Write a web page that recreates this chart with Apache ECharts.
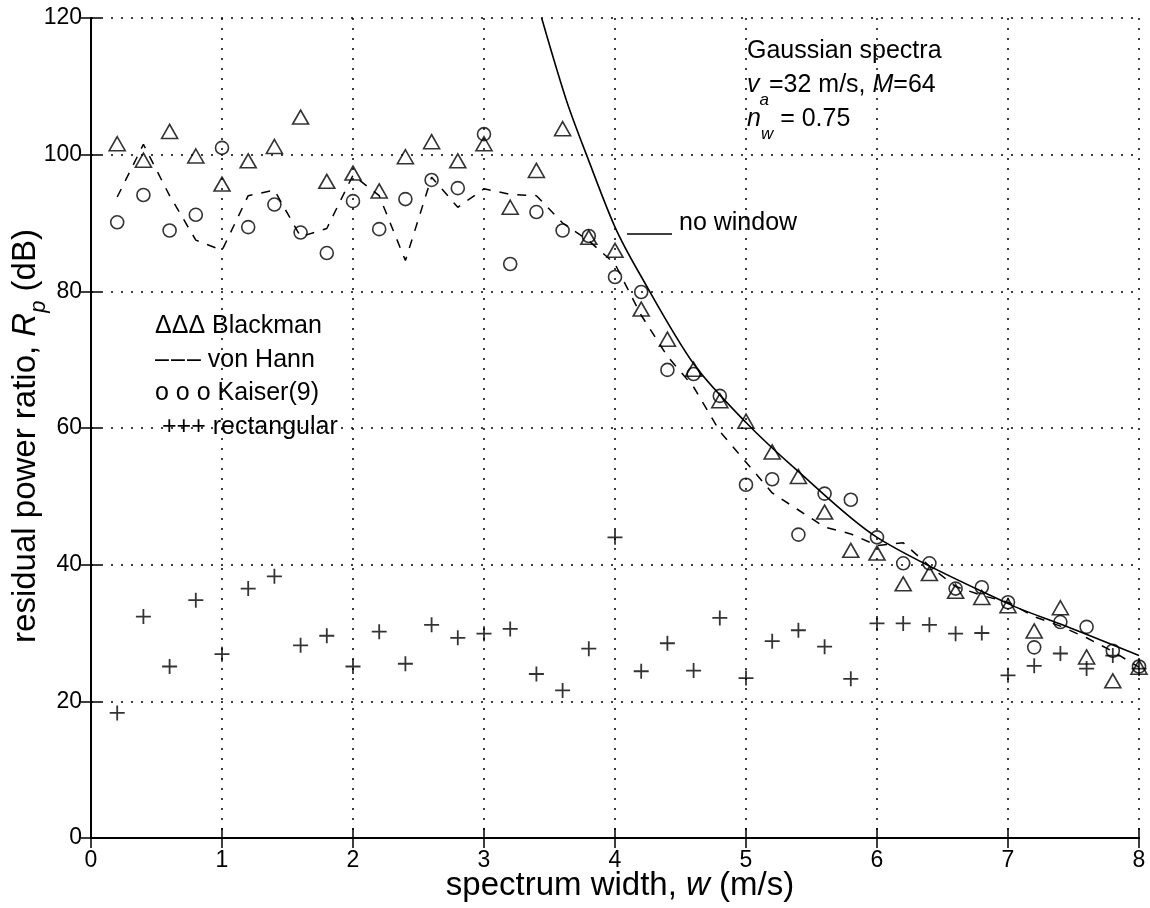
<!DOCTYPE html>
<html>
<head>
<meta charset="utf-8">
<script src="https://cdn.jsdelivr.net/npm/echarts@6/dist/echarts.min.js"></script>
<style>
  html, body { margin: 0; padding: 0; background: #fff; }
  #chart { width: 1150px; height: 908px; }
</style>
</head>
<body>
<div id="chart"></div>
<script>
// Spectrum widths w (m/s) at which each window was evaluated
const widths = [0.2, 0.4, 0.6, 0.8, 1.0, 1.2, 1.4, 1.6, 1.8, 2.0,
                2.2, 2.4, 2.6, 2.8, 3.0, 3.2, 3.4, 3.6, 3.8, 4.0,
                4.2, 4.4, 4.6, 4.8, 5.0, 5.2, 5.4, 5.6, 5.8, 6.0,
                6.2, 6.4, 6.6, 6.8, 7.0, 7.2, 7.4, 7.6, 7.8, 8.0];

// Residual power ratio R_p (dB) per window
const blackman = [101.6, 99.2, 103.4, 99.8, 95.7, 99.1, 101.2, 105.5, 96.1, 97.3,
                  94.7, 99.7, 101.9, 99.1, 101.6, 92.3, 97.7, 103.8, 87.9, 86.0,
                  77.4, 73.0, 68.6, 64.0, 61.0, 56.5, 52.9, 47.7, 42.1, 41.7,
                  37.2, 38.7, 36.1, 35.2, 34.0, 30.3, 33.7, 26.5, 23.0, 25.0];

const vonHann = [93.8, 101.5, 94.0, 87.5, 86.0, 94.0, 94.8, 88.0, 89.2, 97.0,
                 94.0, 84.5, 96.7, 92.3, 95.0, 94.2, 94.0, 90.0, 87.4, 84.0,
                 76.5, 70.5, 66.0, 59.5, 55.0, 50.5, 48.0, 45.5, 44.5, 42.8,
                 43.2, 39.8, 36.8, 35.5, 34.5, 32.4, 31.0, 29.3, 27.3, 25.0];

const kaiser9 = [90.1, 94.1, 88.9, 91.2, 101.0, 89.4, 92.7, 88.6, 85.6, 93.2,
                 89.1, 93.5, 96.3, 95.1, 103.0, 84.0, 91.6, 88.9, 88.1, 82.1,
                 79.9, 68.5, 67.9, 64.7, 51.7, 52.5, 44.4, 50.4, 49.5, 44.0,
                 40.2, 40.2, 36.5, 36.7, 34.5, 27.9, 31.6, 30.9, 27.4, 25.1];

const rectangular = [18.3, 32.4, 25.1, 34.8, 26.9, 36.5, 38.3, 28.2, 29.6, 25.1,
                     30.2, 25.5, 31.2, 29.3, 29.9, 30.6, 24.0, 21.6, 27.7, 44.0,
                     24.4, 28.5, 24.5, 32.2, 23.4, 28.8, 30.4, 28.0, 23.3, 31.4,
                     31.4, 31.2, 29.9, 30.0, 23.8, 25.2, 27.0, 24.8, 26.7, 24.8];

// Unwindowed case: points along the curve (w, R_p)
const noWindowW  = [3.44, 3.63, 3.79, 4.0, 4.19, 4.6, 5.0, 5.39, 6.0, 7.0, 7.4, 7.65, 8.0];
const noWindowRp = [120, 107.9, 99.6, 89.4, 82.5, 69.4, 60.8, 53.8, 44.0, 34.3, 31.3, 29.4, 26.7];

// Axis ticks
const xTicks = { min: 0, max: 8, step: 1 };
const yTicks = { min: 0, max: 120, step: 20 };

const FONT = '"Liberation Sans", Arial, Helvetica, sans-serif';
const BLACK = '#000';

const pairs = (xs, ys) => xs.map((x, i) => [x, ys[i]]);

function tok(size, italic, extra) {
  return Object.assign({ fontSize: size, fontFamily: FONT, fontStyle: italic ? 'italic' : 'normal', fill: BLACK }, extra || {});
}
const richSet = (size, subSize, subShift) => ({
  n: tok(size, false),
  i: tok(size, true),
  s: tok(subSize, true, { padding: [subShift, 0, 0, 0] })
});

function label(x, y, text, opts) {
  opts = opts || {};
  return {
    type: 'text', x: x, y: y, rotation: opts.rotation || 0, silent: true,
    style: {
      text: text,
      rich: richSet(opts.size || 25, opts.subSize || 17, opts.subShift || 30),
      fontSize: opts.size || 25, fontFamily: FONT, fill: BLACK,
      align: opts.align || 'left', verticalAlign: 'middle'
    }
  };
}

const tickAxisCommon = {
  type: 'value',
  axisLine: { show: true, lineStyle: { color: BLACK, width: 2 } },
  axisTick: { show: true, inside: true, length: 10, lineStyle: { color: BLACK, width: 1.5 } }
};

const chart = echarts.init(document.getElementById('chart'), null, { renderer: 'canvas' });

chart.setOption({
  animation: false,
  backgroundColor: '#fff',
  grid: { left: 91, top: 18, right: 11, bottom: 70, containLabel: false },
  xAxis: [
    Object.assign({}, tickAxisCommon, {
      position: 'bottom', min: xTicks.min, max: xTicks.max, interval: xTicks.step,
      axisLabel: { color: BLACK, fontSize: 23, fontFamily: FONT, margin: 11 },
      splitLine: { show: true, lineStyle: { color: BLACK, width: 1.5, type: [2, 8] } }
    }),
    Object.assign({}, tickAxisCommon, {
      position: 'top', min: xTicks.min, max: xTicks.max, interval: xTicks.step,
      axisLabel: { show: false }, splitLine: { show: false }
    })
  ],
  yAxis: [
    Object.assign({}, tickAxisCommon, {
      position: 'left', min: yTicks.min, max: yTicks.max, interval: yTicks.step,
      axisLabel: { color: BLACK, fontSize: 23, fontFamily: FONT, margin: 9 },
      splitLine: { show: true, lineStyle: { color: BLACK, width: 1.5, type: [2, 8] } }
    }),
    Object.assign({}, tickAxisCommon, {
      position: 'right', min: yTicks.min, max: yTicks.max, interval: yTicks.step,
      axisLabel: { show: false }, splitLine: { show: false }
    })
  ],
  series: [
    {
      name: 'no window', type: 'line', data: pairs(noWindowW, noWindowRp),
      smooth: 0.3, showSymbol: false, symbol: 'none', clip: true,
      lineStyle: { color: BLACK, width: 1.6 }, z: 3
    },
    {
      name: 'von Hann', type: 'line', data: pairs(widths, vonHann),
      showSymbol: false, symbol: 'none', clip: true,
      lineStyle: { color: BLACK, width: 1.5, type: [9, 9] }, z: 3
    },
    {
      name: 'Blackman', type: 'scatter', data: pairs(widths, blackman),
      symbol: 'triangle', symbolSize: [16, 14],
      itemStyle: { color: 'rgba(0,0,0,0)', borderColor: BLACK, borderWidth: 1.6 }, z: 4
    },
    {
      name: 'Kaiser(9)', type: 'scatter', data: pairs(widths, kaiser9),
      symbol: 'circle', symbolSize: 13,
      itemStyle: { color: 'rgba(0,0,0,0)', borderColor: BLACK, borderWidth: 1.6 }, z: 4
    },
    {
      name: 'rectangular', type: 'scatter', data: pairs(widths, rectangular),
      symbol: 'path://M8,0L8,16M0,8L16,8', symbolSize: 15,
      itemStyle: { color: 'rgba(0,0,0,0)', borderColor: BLACK, borderWidth: 1.8 }, z: 4
    }
  ],
  graphic: [
    // axis titles
    label(620, 886, 'spectrum width, {i|w} (m/s)', { align: 'center', size: 33 }),
    label(26, 436, 'residual power ratio, {i|R}{s|p} (dB)', { align: 'center', rotation: Math.PI / 2, size: 33, subSize: 22, subShift: 26 }),
    // parameter annotation
    label(747, 51, 'Gaussian spectra'),
    label(747, 85, '{i|v}{s|a}=32 m/s, {i|M}=64'),
    label(747, 119, '{i|n}{s|w} = 0.75'),
    // key for the unwindowed curve
    { type: 'line', silent: true, shape: { x1: 627, y1: 234, x2: 672, y2: 234 }, style: { stroke: BLACK, lineWidth: 1.5 } },
    label(679, 223, 'no window'),
    // window key
    label(155, 326, '\u0394\u0394\u0394 Blackman'),
    label(155, 360, '\u2013\u200a\u2013\u200a\u2013 von Hann'),
    label(155, 393, 'o o o Kaiser(9)'),
    label(155, 427, ' +++ rectangular')
  ]
});
</script>
</body>
</html>
